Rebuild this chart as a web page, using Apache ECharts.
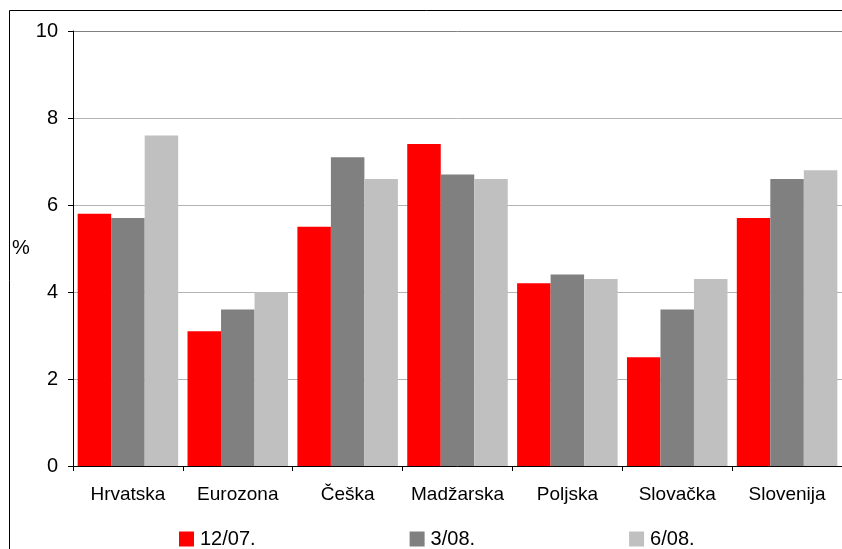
<!DOCTYPE html>
<html>
<head>
<meta charset="utf-8">
<script src="https://cdn.jsdelivr.net/npm/echarts@6/dist/echarts.min.js"></script>
<style>
html,body{margin:0;padding:0;background:#fff;}
#main{width:842px;height:549px;}
</style>
</head>
<body>
<div id="main"></div>
<script>
const categories = ['Hrvatska', 'Eurozona', 'Češka', 'Madžarska', 'Poljska', 'Slovačka', 'Slovenija'];
const seriesNames = ['12/07.', '3/08.', '6/08.'];
const values1207 = [5.8, 3.1, 5.5, 7.4, 4.2, 2.5, 5.7];
const values0308 = [5.7, 3.6, 7.1, 6.7, 4.4, 3.6, 6.6];
const values0608 = [7.6, 4.0, 6.6, 6.6, 4.3, 4.3, 6.8];
const yTicks = { min: 0, max: 10, interval: 2 };
const colors = ['#ff0000', '#808080', '#c0c0c0'];

const font = '"Liberation Sans", Arial, sans-serif';
const chart = echarts.init(document.getElementById('main'), null, { renderer: 'canvas' });
const dataSets = [values1207, values0308, values0608];
chart.setOption({
  animation: false,
  backgroundColor: '#fff',
  textStyle: { fontFamily: font, color: '#000' },
  grid: { left: 73, top: 31, width: 774, height: 435, containLabel: false },
  graphic: [{
    type: 'rect',
    shape: { x: 9.5, y: 10.5, width: 900, height: 600 },
    style: { fill: 'none', stroke: '#000', lineWidth: 1 },
    z: 100
  }],
  legend: {
    left: 179,
    top: 529,
    padding: 0,
    itemWidth: 15,
    itemHeight: 15,
    itemGap: 154,
    icon: 'rect',
    textStyle: { fontFamily: font, fontSize: 20, color: '#000', padding: [0, 0, 0, 1] },
    data: seriesNames
  },
  xAxis: {
    type: 'category',
    data: categories,
    axisLine: { lineStyle: { color: '#000', width: 1 } },
    axisTick: { show: true, length: 5, lineStyle: { color: '#000' } },
    axisLabel: { interval: 0, fontFamily: font, fontSize: 19, color: '#000', margin: 19 },
    splitLine: { show: false }
  },
  yAxis: {
    type: 'value',
    min: yTicks.min,
    max: yTicks.max,
    interval: yTicks.interval,
    name: '%',
    nameLocation: 'middle',
    nameRotate: 0,
    nameGap: 43,
    nameTextStyle: { fontFamily: font, fontSize: 20, color: '#000' },
    axisLine: { show: true, lineStyle: { color: '#000', width: 1 } },
    axisTick: { show: true, length: 5, lineStyle: { color: '#000' } },
    axisLabel: { fontFamily: font, fontSize: 20, color: '#000', margin: 15 },
    splitLine: { show: true, lineStyle: { color: ['#b4b4b4', '#b4b4b4', '#b4b4b4', '#b4b4b4', '#b4b4b4', '#808080'], width: 1 } }
  },
  series: seriesNames.map((name, i) => ({
    name: name,
    type: 'bar',
    data: dataSets[i],
    barGap: '0%',
    barCategoryGap: '8.5%',
    itemStyle: { color: colors[i] }
  }))
});
</script>
</body>
</html>
